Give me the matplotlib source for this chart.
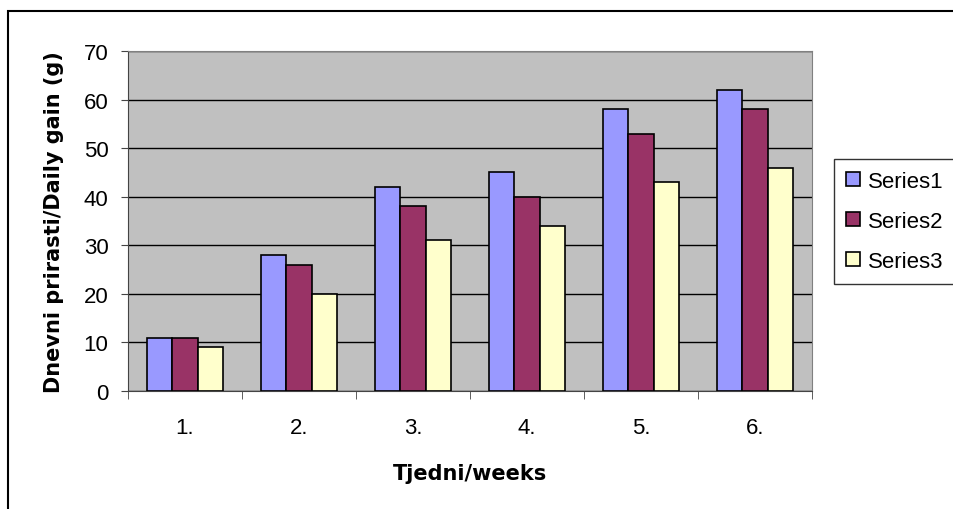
import numpy as np
import matplotlib.pyplot as plt
from matplotlib.patches import Rectangle

# Data
weeks = ['1.', '2.', '3.', '4.', '5.', '6.']
series1 = [11, 28, 42, 45, 58, 62]
series2 = [11, 26, 38, 40, 53, 58]
series3 = [9, 20, 31, 34, 43, 46]
names = ['Series1', 'Series2', 'Series3']
colors = ['#9999FF', '#993366', '#FFFFCC']

plt.rcParams['font.family'] = ['Liberation Sans', 'DejaVu Sans']

fig = plt.figure(figsize=(9.54, 5.10), dpi=100)
ax = fig.add_axes([128/954, 1-392/510, 684/954, 340/510])

# Outer chart frame (cut off at right/bottom like the reference)
fig.patches.append(Rectangle((8/954, -0.5), 2.0, 1.5-12/510, transform=fig.transFigure,
                             fill=False, edgecolor='black', linewidth=1.5))

x = np.arange(len(weeks))
w = 1/4.5
for i, (vals, name, c) in enumerate(zip([series1, series2, series3], names, colors)):
    ax.bar(x + (i-1)*w, vals, w, color=c, edgecolor='black', linewidth=1.2, label=name, zorder=3)

ax.set_facecolor('#C0C0C0')
ax.set_xlim(-0.5, 5.5)
ax.set_ylim(0, 70)
ax.set_yticks(range(0, 71, 10))
ax.yaxis.grid(True, color='black', linewidth=1, zorder=0)
ax.set_axisbelow(True)

# category ticks sit between groups
ax.set_xticks(x)
ax.set_xticklabels(weeks, fontsize=16)
ax.set_xticks(np.arange(-0.5, 6, 1), minor=True)
ax.tick_params(axis='x', which='major', length=0, pad=19)
ax.tick_params(axis='x', which='minor', length=6, direction='out', color='#444444')
ax.tick_params(axis='y', labelsize=16, length=5, pad=9, direction='out', color='#444444')

for s in ['top', 'right']:
    ax.spines[s].set_color('#808080')
for s in ['left', 'bottom']:
    ax.spines[s].set_color('#444444')

ax.set_xlabel('Tjedni/weeks', fontsize=15, fontweight='bold', family='DejaVu Sans', labelpad=18)
ax.set_ylabel('Dnevni prirasti/Daily gain (g)', fontsize=15, fontweight='bold', family='DejaVu Sans',
              labelpad=14)

leg = ax.legend(loc='upper left', bbox_to_anchor=(834/954, 1-160/510), bbox_transform=fig.transFigure,
                fontsize=16, frameon=True, fancybox=False, edgecolor='black',
                handlelength=0.6, handleheight=0.6, handletextpad=0.4, labelspacing=0.85,
                borderpad=0.55, borderaxespad=0)
leg.get_frame().set_linewidth(1)

fig.savefig('out.png', dpi=100)
